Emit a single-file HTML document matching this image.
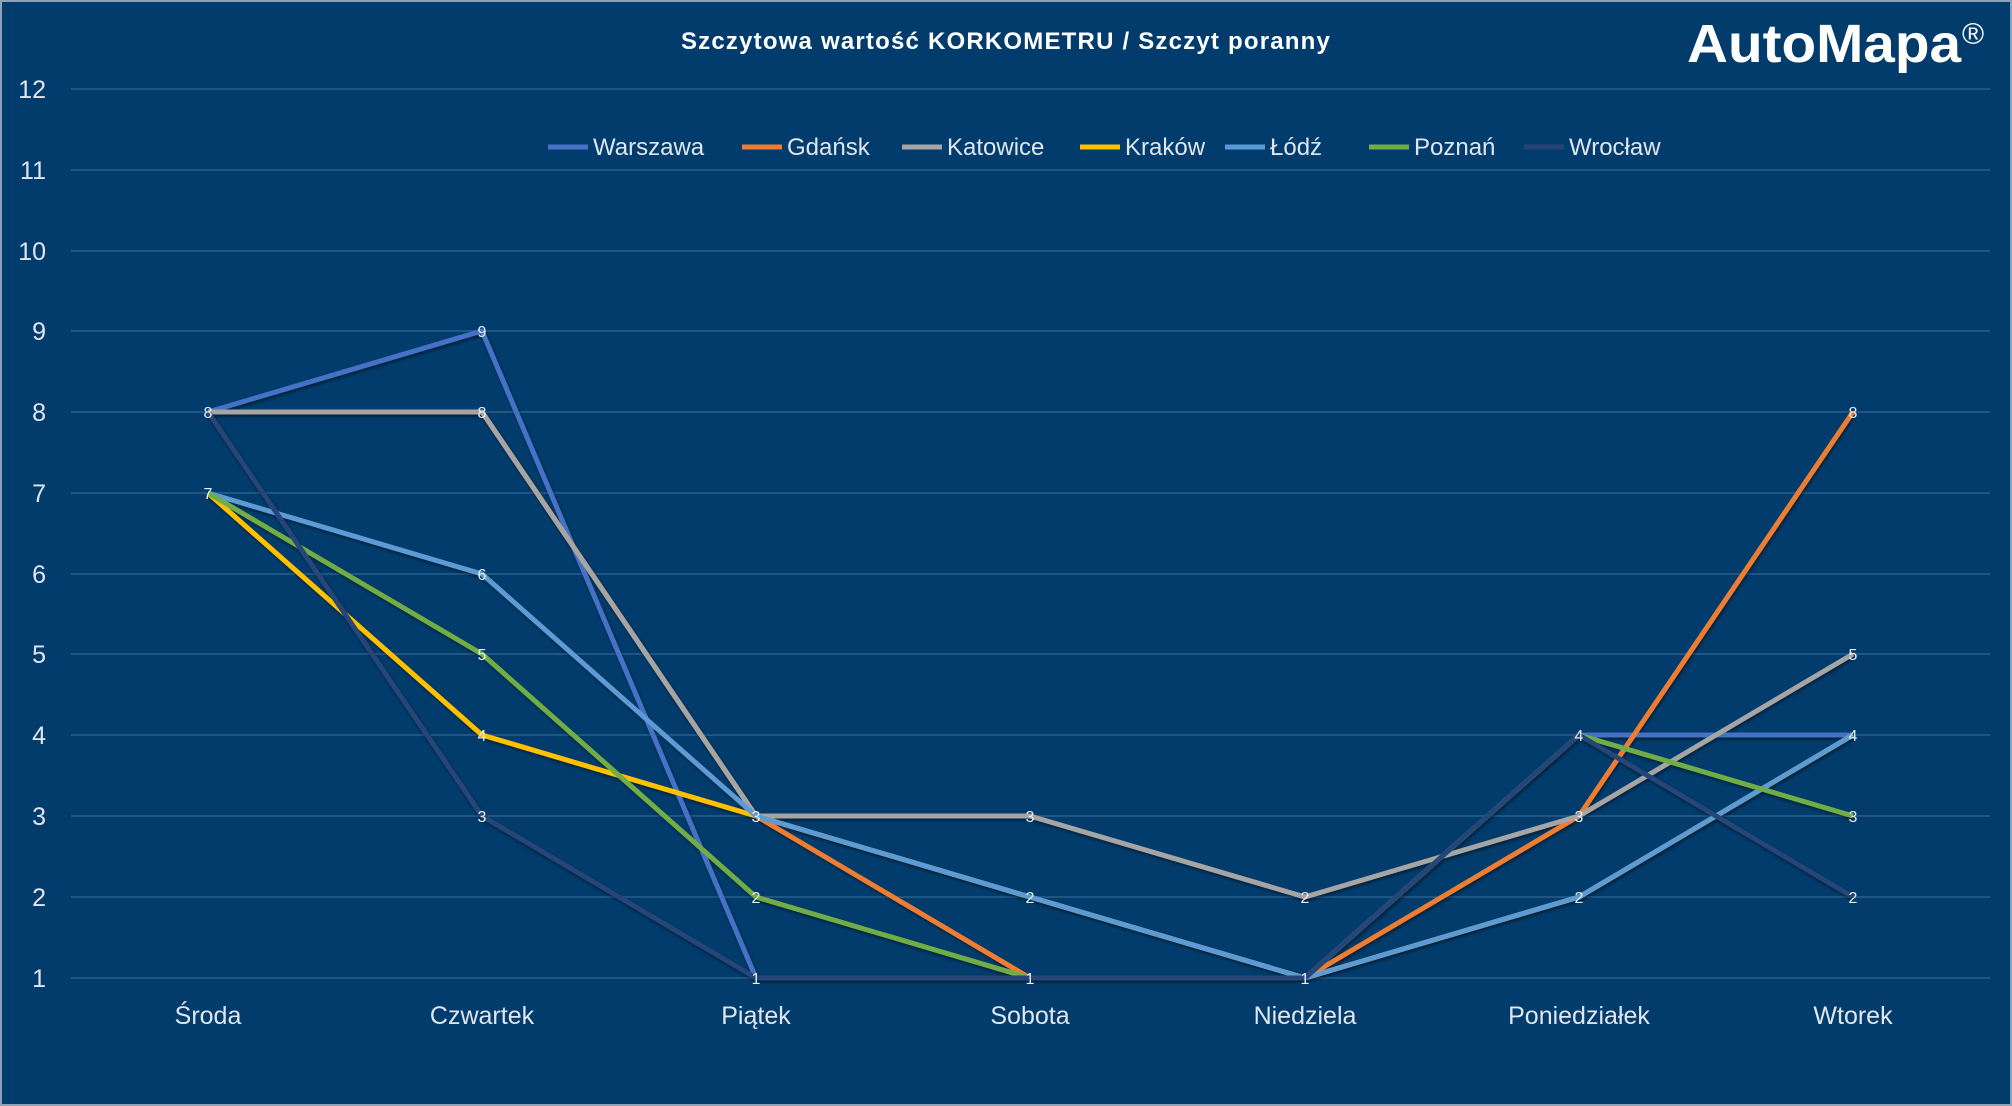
<!DOCTYPE html>
<html><head><meta charset="utf-8"><style>
html,body{margin:0;padding:0;background:#023c6c;}
svg{display:block}
text{font-family:"Liberation Sans",sans-serif;}
</style></head><body>
<svg width="2012" height="1106" viewBox="0 0 2012 1106" xmlns="http://www.w3.org/2000/svg">
<defs><filter id="sh" x="-5%" y="-5%" width="110%" height="110%"><feDropShadow dx="1" dy="2" stdDeviation="1.5" flood-color="#000" flood-opacity="0.5"/></filter></defs>
<rect x="0" y="0" width="2012" height="1106" fill="#023c6c"/>
<rect x="1" y="1" width="2010" height="1104" fill="none" stroke="#8fa3b8" stroke-width="2"/>
<g stroke="#1f5686" stroke-width="2">
<line x1="71" x2="1990" y1="89" y2="89"/><line x1="71" x2="1990" y1="170" y2="170"/><line x1="71" x2="1990" y1="251" y2="251"/><line x1="71" x2="1990" y1="331" y2="331"/><line x1="71" x2="1990" y1="412" y2="412"/><line x1="71" x2="1990" y1="493" y2="493"/><line x1="71" x2="1990" y1="574" y2="574"/><line x1="71" x2="1990" y1="654" y2="654"/><line x1="71" x2="1990" y1="735" y2="735"/><line x1="71" x2="1990" y1="816" y2="816"/><line x1="71" x2="1990" y1="897" y2="897"/><line x1="71" x2="1990" y1="978" y2="978"/>
</g>
<g fill="#dfe6ee" font-size="25" text-anchor="end">
<text x="46" y="98">12</text><text x="46" y="179">11</text><text x="46" y="260">10</text><text x="46" y="340">9</text><text x="46" y="421">8</text><text x="46" y="502">7</text><text x="46" y="583">6</text><text x="46" y="663">5</text><text x="46" y="744">4</text><text x="46" y="825">3</text><text x="46" y="906">2</text><text x="46" y="987">1</text>
</g>
<g fill="#dfe6ee" font-size="25" text-anchor="middle">
<text x="208" y="1024">Środa</text><text x="482" y="1024">Czwartek</text><text x="756" y="1024">Piątek</text><text x="1030" y="1024">Sobota</text><text x="1305" y="1024">Niedziela</text><text x="1579" y="1024">Poniedziałek</text><text x="1853" y="1024">Wtorek</text>
</g>
<text x="1006" y="49" fill="#fff" font-size="24" font-weight="bold" text-anchor="middle" letter-spacing="1.2">Szczytowa wartość KORKOMETRU / Szczyt poranny</text>
<text x="1687" y="62" fill="#fff" font-size="54" font-weight="bold" textLength="274" lengthAdjust="spacingAndGlyphs">AutoMapa</text>
<text x="1962" y="44" fill="#fff" font-size="30">®</text>
<g font-size="24" fill="#dfe6ee">
<line x1="548" x2="588" y1="147" y2="147" stroke="#4472c4" stroke-width="5"/><text x="593" y="155">Warszawa</text>
<line x1="742" x2="782" y1="147" y2="147" stroke="#ed7d31" stroke-width="5"/><text x="787" y="155">Gdańsk</text>
<line x1="902" x2="942" y1="147" y2="147" stroke="#a5a5a5" stroke-width="5"/><text x="947" y="155">Katowice</text>
<line x1="1080" x2="1120" y1="147" y2="147" stroke="#ffc000" stroke-width="5"/><text x="1125" y="155">Kraków</text>
<line x1="1225" x2="1265" y1="147" y2="147" stroke="#5b9bd5" stroke-width="5"/><text x="1270" y="155">Łódź</text>
<line x1="1369" x2="1409" y1="147" y2="147" stroke="#70ad47" stroke-width="5"/><text x="1414" y="155">Poznań</text>
<line x1="1524" x2="1564" y1="147" y2="147" stroke="#264478" stroke-width="5"/><text x="1569" y="155">Wrocław</text>
</g>
<g fill="none" stroke-width="5" stroke-linejoin="round" filter="url(#sh)">
<polyline stroke="#4472c4" points="208,412 482,331 756,978 1030,978 1305,978 1579,735 1853,735"/>
<polyline stroke="#ed7d31" points="208,412 482,412 756,816 1030,978 1305,978 1579,816 1853,412"/>
<polyline stroke="#a5a5a5" points="208,412 482,412 756,816 1030,816 1305,897 1579,816 1853,654"/>
<polyline stroke="#ffc000" points="208,493 482,735 756,816 1030,897 1305,978 1579,897 1853,735"/>
<polyline stroke="#5b9bd5" points="208,493 482,574 756,816 1030,897 1305,978 1579,897 1853,735"/>
<polyline stroke="#70ad47" points="208,493 482,654 756,897 1030,978 1305,978 1579,735 1853,816"/>
<polyline stroke="#264478" points="208,412 482,816 756,978 1030,978 1305,978 1579,735 1853,897"/>
</g>
<g fill="#e8eef4" font-size="16" text-anchor="middle">
<text x="208" y="418">8</text><text x="208" y="499">7</text>
<text x="482" y="337">9</text><text x="482" y="418">8</text><text x="482" y="580">6</text><text x="482" y="660">5</text><text x="482" y="741">4</text><text x="482" y="822">3</text>
<text x="756" y="822">3</text><text x="756" y="903">2</text><text x="756" y="984">1</text>
<text x="1030" y="822">3</text><text x="1030" y="903">2</text><text x="1030" y="984">1</text>
<text x="1305" y="903">2</text><text x="1305" y="984">1</text>
<text x="1579" y="741">4</text><text x="1579" y="822">3</text><text x="1579" y="903">2</text>
<text x="1853" y="418">8</text><text x="1853" y="660">5</text><text x="1853" y="741">4</text><text x="1853" y="822">3</text><text x="1853" y="903">2</text>
</g>
</svg>
</body></html>
